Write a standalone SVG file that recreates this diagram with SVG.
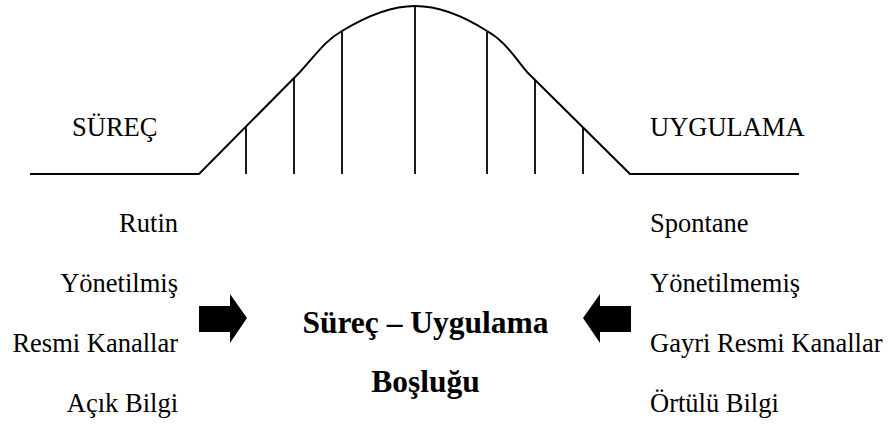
<svg xmlns="http://www.w3.org/2000/svg" width="889" height="425" viewBox="0 0 889 425">
  <style>
    .ln { fill: none; stroke: #000; stroke-width: 2; stroke-linejoin: round; }
    .tick { stroke: #000; stroke-width: 1.8; }
    .lbl { font-size: 26.5px; fill: #000; }
    .ttl { font-size: 31.5px; font-weight: bold; fill: #000; text-anchor: middle; }
    .arr { fill: #000; }
  </style>
  <rect width="889" height="425" fill="#fff"/>

  <!-- bell curve between the process and practice baselines -->
  <g id="curve">
    <path class="ln" d="M30,174 L199,174 L300,72 C318,52 326,40 342,31 C365,17 390,6 415,6 C440,6 465,17 487,31 C503,40 511,52 527,72 L630,174 L799,174"/>
    <line class="tick" x1="246" y1="126" x2="246" y2="174"/>
    <line class="tick" x1="294" y1="78" x2="294" y2="174"/>
    <line class="tick" x1="342" y1="31" x2="342" y2="174"/>
    <line class="tick" x1="415" y1="6" x2="415" y2="174"/>
    <line class="tick" x1="487" y1="31" x2="487" y2="174"/>
    <line class="tick" x1="535" y1="80" x2="535" y2="174"/>
    <line class="tick" x1="583" y1="127" x2="583" y2="174"/>
  </g>

  <g font-family="'Liberation Serif', 'Times New Roman', Times, serif">
    <g id="surec">
      <text class="lbl" x="72" y="136">SÜREÇ</text>
      <text class="lbl" x="178" y="232" text-anchor="end">Rutin</text>
      <text class="lbl" x="178" y="292" text-anchor="end">Yönetilmiş</text>
      <text class="lbl" x="178" y="352" text-anchor="end">Resmi Kanallar</text>
      <text class="lbl" x="178" y="412" text-anchor="end">Açık Bilgi</text>
    </g>

    <g id="uygulama">
      <text class="lbl" x="650" y="136">UYGULAMA</text>
      <text class="lbl" x="650" y="232">Spontane</text>
      <text class="lbl" x="650" y="292">Yönetilmemiş</text>
      <text class="lbl" x="650" y="352">Gayri Resmi Kanallar</text>
      <text class="lbl" x="650" y="412">Örtülü Bilgi</text>
    </g>

    <g id="gap">
      <text class="ttl" x="425.5" y="333">Süreç – Uygulama</text>
      <text class="ttl" x="425.5" y="392">Boşluğu</text>
    </g>
  </g>

  <g id="connectors">
    <polygon class="arr" points="199,306 230,306 230,294 247,318 230,343 230,332 199,332"/>
    <polygon class="arr" points="631,306 600,306 600,294 583,318 600,343 600,332 631,332"/>
  </g>
</svg>
